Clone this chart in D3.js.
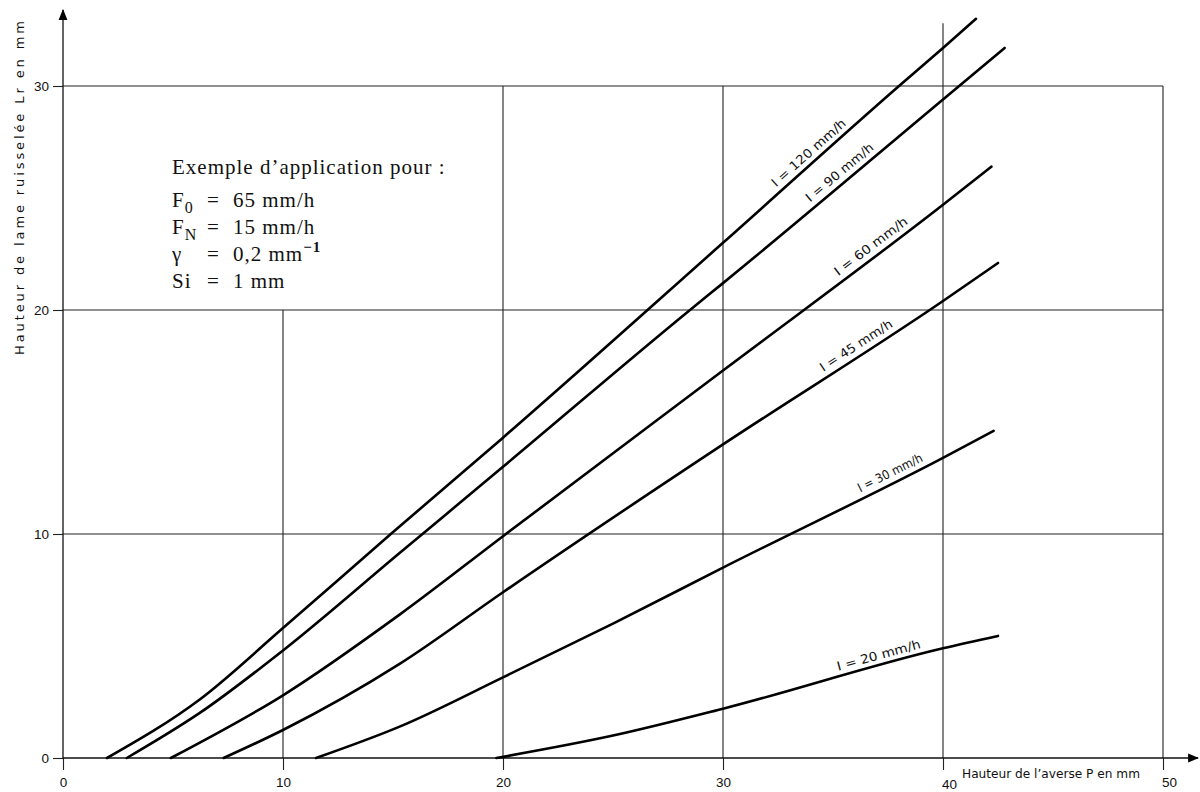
<!DOCTYPE html>
<html>
<head>
<meta charset="utf-8">
<script src="https://cdn.jsdelivr.net/npm/d3@7"></script>
<style>
  body { margin: 0; background: #fff; }
  svg { display: block; }
</style>
</head>
<body>
<svg id="chart" width="1200" height="792"></svg>
<script>
// values: P (mm) -> Lr (mm)
const intensities = ['120', '90', '60', '45', '30', '20'];
const curve120 = [[2.0, 0], [6.2, 2.6], [10, 5.8], [14.9, 10.0], [20, 14.3], [30, 23.0], [38, 30], [40, 31.7], [41.5, 33.0]];
const curve90 = [[2.9, 0], [6.2, 2.0], [10, 4.8], [15.3, 9.15], [20, 13.0], [28.5, 20], [30, 21.2], [40, 29.4], [42.8, 31.7]];
const curve60 = [[4.9, 0], [10, 2.8], [15.3, 6.4], [20, 9.9], [30, 17.3], [40, 24.7], [42.2, 26.4]];
const curve45 = [[7.3, 0], [10, 1.25], [15.3, 4.2], [20, 7.4], [30, 14.0], [40, 20.4], [42.5, 22.1]];
const curve30 = [[11.5, 0], [15.3, 1.4], [20, 3.6], [25, 6.0], [30, 8.5], [40, 13.4], [42.3, 14.6]];
const curve20 = [[19.7, 0], [25, 1.0], [30, 2.2], [40, 4.9], [42.5, 5.45]];
const curves = [curve120, curve90, curve60, curve45, curve30, curve20];

// where each label sits along its curve (P value) and its printed length
const labelAt = [34.2, 35.6, 37.0, 36.3, 37.8, 37.2];
const labelLen = [95, 84, 88, 84, 71, 86];

const xTicks = [0, 10, 20, 30, 40, 50];
const yTicks = [0, 10, 20, 30];
// grid: vertical lines and how high each one goes (Lr)
const gridX = [10, 20, 30, 40, 50];
const gridXTop = [20, 30, 30, 32.8, 30];
const gridY = [10, 20, 30];

const svg = d3.select('#chart');

const x = d3.scaleLinear().domain([0, 50]).range([63, 1163]);
const y = d3.scaleLinear().domain([0, 30]).range([758, 86]);

const defs = svg.append('defs');
defs.append('marker')
  .attr('id', 'arrow')
  .attr('viewBox', '0 0 10 10')
  .attr('refX', 9).attr('refY', 5)
  .attr('markerWidth', 11).attr('markerHeight', 11)
  .attr('markerUnits', 'userSpaceOnUse')
  .attr('orient', 'auto')
  .append('path')
  .attr('d', 'M0,1 L10,5 L0,9 Z')
  .attr('fill', '#000');

// grid
const grid = svg.append('g').attr('stroke', '#222').attr('stroke-width', 1.1);
grid.selectAll('line.v')
  .data(gridX)
  .enter()
  .append('line')
  .attr('class', 'v')
  .attr('x1', d => x(d)).attr('x2', d => x(d))
  .attr('y1', y(0)).attr('y2', (d, i) => y(gridXTop[i]));
grid.selectAll('line.h')
  .data(gridY)
  .enter()
  .append('line')
  .attr('class', 'h')
  .attr('x1', x(0)).attr('x2', x(50))
  .attr('y1', d => y(d)).attr('y2', d => y(d));

// axes
const yAxis = svg.append('g')
  .attr('transform', 'translate(' + x(0) + ',0)')
  .call(d3.axisLeft(y).tickValues(yTicks).tickSize(10).tickPadding(4).tickFormat(d3.format('d')));
const xAxis = svg.append('g')
  .attr('transform', 'translate(0,' + y(0) + ')')
  .call(d3.axisBottom(x).tickValues(xTicks).tickSize(12).tickPadding(7).tickFormat(d3.format('d')));
[yAxis, xAxis].forEach(a => {
  a.select('.domain').remove();
  a.selectAll('.tick line').attr('stroke', '#222').attr('stroke-width', 1.1);
  a.selectAll('.tick text')
    .attr('font-family', 'Liberation Sans, Arial, sans-serif')
    .attr('font-size', 13.5)
    .attr('fill', '#111');
});
xAxis.selectAll('.tick text')
  .attr('dx', d => (d >= 40 ? 6 : 0))
  .attr('dy', d => (d === 40 ? '0.86em' : '0.71em'));

svg.append('line')
  .attr('x1', x(0)).attr('y1', y(0) + 1)
  .attr('x2', x(0)).attr('y2', 10)
  .attr('stroke', '#111').attr('stroke-width', 1.3)
  .attr('marker-end', 'url(#arrow)');
svg.append('line')
  .attr('x1', x(0)).attr('y1', y(0))
  .attr('x2', 1198).attr('y2', y(0))
  .attr('stroke', '#111').attr('stroke-width', 1.3)
  .attr('marker-end', 'url(#arrow)');

// axis titles
svg.append('text')
  .attr('transform', 'translate(24,' + 188 + ') rotate(-90)')
  .attr('text-anchor', 'middle')
  .attr('font-family', 'DejaVu Sans, sans-serif')
  .attr('font-size', 13)
  .attr('textLength', 334)
  .attr('lengthAdjust', 'spacing')
  .attr('fill', '#111')
  .text('Hauteur de lame ruisselée Lr en mm');
svg.append('text')
  .attr('x', 962).attr('y', 778)
  .attr('font-family', 'DejaVu Sans, sans-serif')
  .attr('font-size', 11.5)
  .attr('textLength', 178)
  .attr('lengthAdjust', 'spacingAndGlyphs')
  .attr('fill', '#111')
  .text('Hauteur de l\u2019averse P en mm');

// curves
const line = d3.line()
  .x(d => x(d[0]))
  .y(d => y(d[1]))
  .curve(d3.curveMonotoneX);
svg.append('g')
  .selectAll('path')
  .data(curves)
  .enter()
  .append('path')
  .attr('d', line)
  .attr('fill', 'none')
  .attr('stroke', '#000')
  .attr('stroke-width', 2.6)
  .attr('stroke-linecap', 'round')
  .attr('stroke-linejoin', 'round');

// labels laid along the curves
function alongCurve(pts, pv) {
  let i = 1;
  while (i < pts.length - 1 && pts[i][0] < pv) i++;
  const p0 = pts[i - 1], p1 = pts[i];
  const t = (pv - p0[0]) / (p1[0] - p0[0]);
  const lv = p0[1] + t * (p1[1] - p0[1]);
  const ang = Math.atan2(y(p1[1]) - y(p0[1]), x(p1[0]) - x(p0[0])) * 180 / Math.PI;
  return { px: x(pv), py: y(lv), ang: ang };
}

svg.append('g')
  .selectAll('text')
  .data(intensities)
  .enter()
  .append('text')
  .attr('transform', (d, i) => {
    const p = alongCurve(curves[i], labelAt[i]);
    return 'translate(' + p.px + ',' + p.py + ') rotate(' + p.ang + ')';
  })
  .attr('y', -6)
  .attr('text-anchor', 'middle')
  .attr('font-family', 'DejaVu Sans, sans-serif')
  .attr('font-size', 12.5)
  .attr('textLength', (d, i) => labelLen[i])
  .attr('lengthAdjust', 'spacingAndGlyphs')
  .attr('fill', '#111')
  .text(d => 'I = ' + d + ' mm/h');

// example parameters box
const note = svg.append('g')
  .attr('font-family', 'Liberation Serif, Times New Roman, serif')
  .attr('font-size', 21)
  .attr('letter-spacing', 1)
  .attr('fill', '#111');
note.append('text').attr('x', 172).attr('y', 174).text('Exemple d\u2019application pour :');

const params = [
  { name: 'F', sub: '0', val: '65 mm/h' },
  { name: 'F', sub: 'N', val: '15 mm/h' },
  { name: '\u03b3', sub: '', val: '0,2 mm', sup: '\u22121' },
  { name: 'Si', sub: '', val: '1 mm' }
];
params.forEach((p, i) => {
  const by = 207 + i * 27;
  const t = note.append('text').attr('x', 172).attr('y', by);
  t.append('tspan').text(p.name);
  if (p.sub) t.append('tspan').attr('dy', 6).attr('font-size', 16).text(p.sub);
  note.append('text').attr('x', 207).attr('y', by).text('=');
  const v = note.append('text').attr('x', 233).attr('y', by);
  v.append('tspan').text(p.val);
  if (p.sup) v.append('tspan').attr('dy', -9).attr('font-size', 15).attr('font-weight', 'bold').text(p.sup);
});
</script>
</body>
</html>
